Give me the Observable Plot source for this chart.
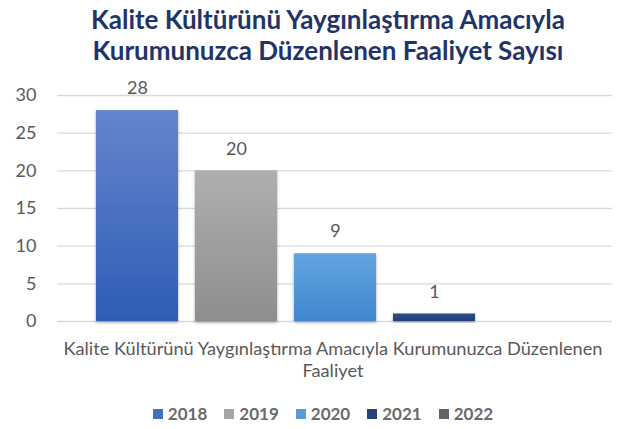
<!DOCTYPE html>
<html>
<head>
<meta charset="utf-8">
<script src="https://cdn.jsdelivr.net/npm/d3@7"></script>
<script src="https://cdn.jsdelivr.net/npm/@observablehq/plot@0.6"></script>
<style>
  html, body { margin: 0; padding: 0; background: #fff; }
  body { width: 624px; height: 429px; position: relative; overflow: hidden; font-family: Lato, "Open Sans", sans-serif; }
  #title { position: absolute; top: 4px; left: 16px; width: 624px; text-align: center; font-weight: 700; font-size: 26px; line-height: 31px; color: #1F3468; }
  #chart { position: absolute; top: 72px; left: 0; }
  #legend { position: absolute; top: 403px; left: 11px; width: 624px; display: flex; justify-content: center; gap: 17px; font-size: 17px; font-weight: 700; color: #6a6a6a; }
  .item { display: flex; align-items: center; gap: 5px; }
  .sw { width: 10px; height: 10px; display: inline-block; }
</style>
</head>
<body>
<div id="title"></div>
<div id="chart"></div>
<div id="legend"></div>
<script>
const titleLines = ["Kalite Kültürünü Yaygınlaştırma Amacıyla", "Kurumunuzca Düzenlenen Faaliyet Sayısı"];
const categories = ["Kalite Kültürünü Yaygınlaştırma Amacıyla Kurumunuzca Düzenlenen Faaliyet"];
const years = ["2018", "2019", "2020", "2021", "2022"];
const values = [28, 20, 9, 1, null];
const yTicks = [0, 5, 10, 15, 20, 25, 30];
const gradTop = ["#6585CC", "#AFAFAF", "#63A5E0", "#2E4D8A", "#646464"];
const gradBottom = ["#2E5DB6", "#8E8E8E", "#3F87CD", "#203F7A", "#5A5A5A"];
const legendColors = ["#4470C4", "#A5A5A5", "#5B9BD5", "#264478", "#636363"];

document.getElementById("title").innerHTML = titleLines.join("<br>");

const data = years.map((y, i) => ({category: categories[0], year: y, value: values[i], idx: i}));

const defsMark = () => {
  const defs = d3.create("svg:defs");
  years.forEach((y, i) => {
    const g = defs.append("linearGradient").attr("id", "g" + y).attr("x1", 0).attr("y1", 0).attr("x2", 0).attr("y2", 1);
    g.append("stop").attr("offset", "0%").attr("stop-color", gradTop[i]);
    g.append("stop").attr("offset", "100%").attr("stop-color", gradBottom[i]);
  });
  const f = defs.append("filter").attr("id", "shadow").attr("x", "-20%").attr("y", "-20%").attr("width", "140%").attr("height", "140%");
  f.append("feDropShadow").attr("dx", 0).attr("dy", 1.5).attr("stdDeviation", 1.6).attr("flood-color", "#000").attr("flood-opacity", 0.35);
  return defs.node();
};

const chart = Plot.plot({
  width: 624,
  height: 320,
  marginLeft: 57,
  marginRight: 12,
  marginTop: 23,
  marginBottom: 71,
  style: {fontFamily: "Lato, sans-serif", background: "transparent"},
  fx: {domain: categories, padding: 0, label: null},
  x: {domain: years, paddingInner: 0.176, paddingOuter: 0.38, axis: null},
  y: {domain: [0, 30], label: null},
  color: {type: "identity"},
  marks: [
    defsMark,
    Plot.ruleY(yTicks, {stroke: "#D9D9D9", strokeWidth: 1.3}),
    Plot.axisY({ticks: yTicks, tickSize: 0, tickPadding: 21, fontSize: 18, fill: "#595959", label: null}),
    Plot.axisFx({anchor: "bottom", tickSize: 0, tickPadding: 18, fontSize: 18.2, fill: "#595959", lineHeight: 1.2, label: null,
      tickFormat: d => d.replace(" Faaliyet", "\nFaaliyet"), dx: -2}),
    Plot.barY(data.filter(d => d.value != null), {fx: "category", x: "year", y: "value", fill: d => `url(#g${d.year})`, className: "bars"}),
    Plot.text(data.filter(d => d.value != null), {fx: "category", x: "year", y: "value", text: d => String(d.value), dy: -22, fontSize: 18, fill: "#595959"})
  ]
});
d3.select(chart).selectAll(".bars rect").attr("filter", "url(#shadow)");
document.getElementById("chart").appendChild(chart);

const legend = d3.select("#legend");
years.forEach((y, i) => {
  const it = legend.append("div").attr("class", "item");
  it.append("span").attr("class", "sw").style("background", legendColors[i]);
  it.append("span").text(y);
});
</script>
</body>
</html>
